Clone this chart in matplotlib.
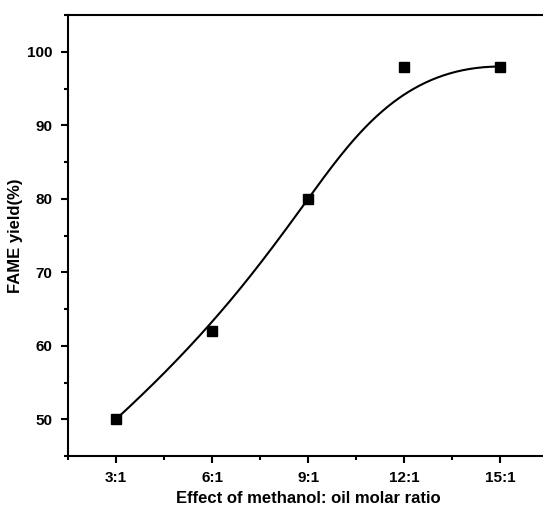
import numpy as np
import matplotlib
matplotlib.use("Agg")
import matplotlib.pyplot as plt
from matplotlib.ticker import MultipleLocator

# methanol : oil molar ratio vs FAME yield
ratio = [3, 6, 9, 12, 15]
ratio_labels = ["3:1", "6:1", "9:1", "12:1", "15:1"]
yield_pct = [50, 62, 80, 98, 98]

plt.rcParams['font.family'] = ['Liberation Sans', 'DejaVu Sans']
plt.rcParams['font.weight'] = 'bold'


def bspline(px, py, n=300, k=3):
    # clamped cubic B-spline using the data points as control points
    m = len(px)
    inner = np.linspace(0, 1, m - k + 1)[1:-1]
    knots = np.concatenate([np.zeros(k + 1), inner, np.ones(k + 1)])
    t = np.linspace(0, 1, n)
    t[-1] = 1 - 1e-12
    N = np.zeros((n, len(knots) - 1))
    for i in range(len(knots) - 1):
        N[:, i] = (t >= knots[i]) & (t < knots[i + 1])
    for d in range(1, k + 1):
        newN = np.zeros((n, len(knots) - 1 - d))
        for i in range(len(knots) - 1 - d):
            a = knots[i + d] - knots[i]
            b = knots[i + d + 1] - knots[i + 1]
            left = (t - knots[i]) / a * N[:, i] if a > 0 else 0
            right = (knots[i + d + 1] - t) / b * N[:, i + 1] if b > 0 else 0
            newN[:, i] = left + right
        N = newN
    return N @ np.array(px, float), N @ np.array(py, float)


fig = plt.figure(figsize=(5.43, 5.2), dpi=100)
ax = fig.add_axes([0.125, 0.123, 0.885, 0.848])

cx, cy = bspline(ratio, yield_pct)
ax.plot(cx, cy, color='black', lw=1.5)
ax.plot(ratio, yield_pct, 's', color='black', ms=7)

ax.set_xlim(1.5, 16.5)
ax.set_ylim(45, 105)
ax.set_xticks(ratio)
ax.set_xticklabels(ratio_labels)
ax.xaxis.set_minor_locator(MultipleLocator(1.5))
ax.yaxis.set_major_locator(MultipleLocator(10))
ax.yaxis.set_minor_locator(MultipleLocator(5))
ax.tick_params(which='both', direction='out', width=1.5, labelsize=11)
ax.tick_params(which='major', length=5, pad=6)
ax.tick_params(which='minor', length=3)
for s in ax.spines.values():
    s.set_linewidth(1.5)

ax.set_xlabel("Effect of methanol: oil molar ratio", fontsize=12, fontweight='bold', labelpad=4)
ax.set_ylabel("FAME yield(%)", fontsize=12, fontweight='bold', labelpad=3)

fig.savefig("out.png", dpi=100)
